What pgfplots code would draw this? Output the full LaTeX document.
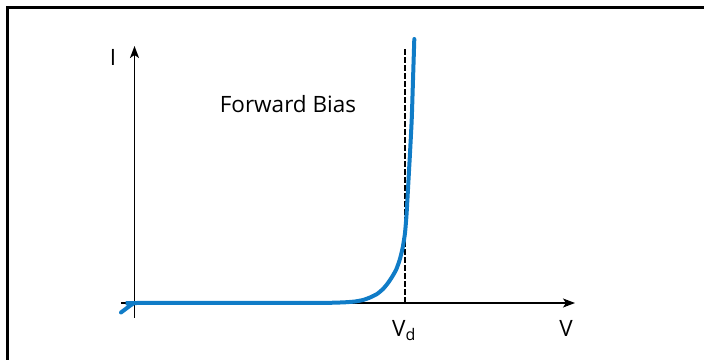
\documentclass[border=0pt]{standalone}
\usepackage{pgfplots}
\pgfplotsset{compat=1.18}
\usepackage{fontspec}
\setmainfont{Open Sans}
\usetikzlibrary{arrows.meta}
\definecolor{curveblue}{RGB}{16,124,199}

% diode I-V curve (x in px, y = height above the V axis in px)
\pgfplotstableread{
x      y
121    -9.5
128    -4.2
133    -0.8
137    0
300    0
}\diodeflat
\pgfplotstableread{
x      y
300    0
330    0.2
345    0.7
355    1.5
363    3
370    5.5
377    9
383    14
388    20
392    26
396    33
399    41
401    48
403    57
405    70
406.5  88
408    114
409    132
410    150
411.7  183
413    223
414.3  264
}\diodecurve

\begin{document}
\begin{tikzpicture}
\begin{axis}[
    name=ax,
    width=704bp, height=360bp,
    scale only axis,
    xmin=0, xmax=704,
    ymin=-57, ymax=303,
    axis lines=none,
    clip=false,
    font=\fontsize{22.5bp}{27bp}\selectfont,
]
% frame of the cropped picture (top and left edges only)
\draw[line width=3bp, black] (axis cs:7.5,-57) -- (axis cs:7.5,295.5) -- (axis cs:704,295.5);

% axes
\draw[line width=1.8bp, -{Stealth[length=12bp,width=9bp,inset=3bp]}] (axis cs:121,0) -- (axis cs:575,0);
\draw[line width=1.8bp, -{Stealth[length=12bp,width=9bp,inset=3bp]}] (axis cs:134.5,-15) -- (axis cs:134.5,257);

% V_d marker
\addplot[black, line width=2bp, dash pattern=on 5.5bp off 2.5bp] coordinates {(404.5,0) (404.5,256)};

% curve
\addplot[curveblue, line width=4bp, smooth, tension=0.5, line cap=round] table[x=x, y=y] {\diodeflat};
\addplot[curveblue, line width=4bp, smooth, tension=0.35, line cap=round] table[x=x, y=y] {\diodecurve};

\node at (axis cs:113,246) {I};
\node at (axis cs:288,199) {Forward Bias};
\node[anchor=base] at (axis cs:566,-33) {V};
\node[anchor=base west, inner sep=0pt] at (axis cs:392,-33) {V{\fontsize{16bp}{18bp}\selectfont\raisebox{-4bp}{d}}};
\end{axis}
\pgfresetboundingbox
\path (ax.south west) rectangle (ax.north east);
\end{tikzpicture}
\end{document}
